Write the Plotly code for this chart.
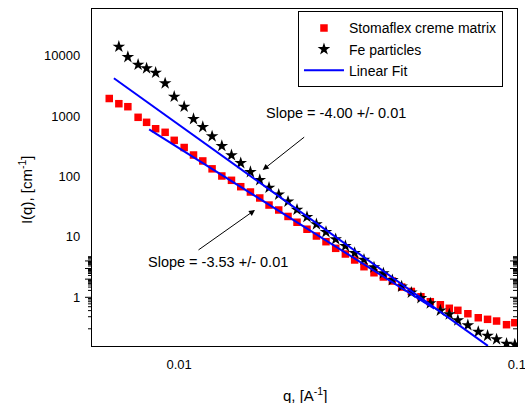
import math
import plotly.graph_objects as go

# ---- data ----
q_matrix = [0.00621, 0.00663, 0.00705, 0.00756, 0.00801, 0.00852, 0.00909, 0.00967,
            0.01035, 0.01103, 0.01175, 0.01252, 0.01338, 0.01429, 0.01522, 0.01626,
            0.01733, 0.01846, 0.01972, 0.02101, 0.02234, 0.02391, 0.02550, 0.02722,
            0.02908, 0.03107, 0.03310, 0.03527, 0.03776, 0.04025, 0.04279, 0.04560,
            0.04871, 0.05200, 0.05544, 0.05936, 0.06310, 0.06689, 0.07161, 0.07688,
            0.08191, 0.08710, 0.09322, 0.09863]
I_matrix = [1955, 1604, 1431, 955, 789, 618, 539, 397,
            302, 227, 181, 134, 102, 86.5, 67.8, 55.4,
            44.1, 33.7, 27.9, 21.8, 17.5, 13.4, 10.35, 8.33,
            6.47, 5.21, 4.15, 3.21, 2.55, 2.17, 1.86, 1.48,
            1.25, 1.02, 0.846, 0.754, 0.658, 0.609, 0.535, 0.459,
            0.432, 0.405, 0.352, 0.380]

q_fe = [0.00663, 0.00705, 0.00756, 0.00801, 0.00852, 0.00909, 0.00967,
        0.01035, 0.01103, 0.01175, 0.01252, 0.01338, 0.01429, 0.01522, 0.01626,
        0.01733, 0.01846, 0.01972, 0.02101, 0.02234, 0.02391, 0.02550, 0.02722,
        0.02908, 0.03107, 0.03310, 0.03527, 0.03776, 0.04025, 0.04279, 0.04560,
        0.04871, 0.05200, 0.05544, 0.05936, 0.06310, 0.06689, 0.07161, 0.07688,
        0.08191, 0.08710, 0.09322, 0.09863]
I_fe = [14090, 9510, 7100, 6185, 5233, 3493, 2095,
        1431, 895, 660, 463, 320, 225, 167, 118.7,
        87.5, 65.3, 50.3, 38.5, 28.2, 21.4, 16.2, 12.05,
        9.16, 7.07, 5.41, 4.19, 3.14, 2.50, 1.93, 1.51,
        1.20, 0.974, 0.796, 0.605, 0.523, 0.416, 0.345, 0.2685,
        0.231, 0.2017, 0.1705, 0.1654]

fit_fe_q = [0.00641, 0.0821]
fit_fe_I = [4226, 0.157]
fit_matrix_q = [0.00815, 0.0570]
fit_matrix_I = [604, 0.65]

names = ["Stomaflex creme matrix", "Fe particles", "Linear Fit"]
slope_labels = ["Slope = -4.00 +/- 0.01", "Slope = -3.53 +/- 0.01"]

x_range = [-2.258, -0.9995]
y_range = [-0.806, 4.773]

# tick positions
x_major = [0.01, 0.1]
y_major = [1, 10, 100, 1000, 10000]
x_minor = [d * 10.0 ** e for e in (-3, -2) for d in range(2, 10)]
y_minor = [d * 10.0 ** e for e in range(-1, 5) for d in range(2, 10)]

FONT = "Arial, Liberation Sans, sans-serif"
PLOT_W, PLOT_H = 425, 337

fig = go.Figure()
fig.add_trace(go.Scatter(x=q_matrix, y=I_matrix, mode="markers", name=names[0],
                         marker=dict(symbol="square", size=7.5, color="#ff0000",
                                     line=dict(width=0))))
fig.add_trace(go.Scatter(x=q_fe, y=I_fe, mode="markers", name=names[1],
                         marker=dict(symbol="star", size=9.5, color="black",
                                     line=dict(width=0))))
fig.add_trace(go.Scatter(x=fit_fe_q, y=fit_fe_I, mode="lines", name=names[2],
                         line=dict(color="#0000ff", width=2)))
fig.add_trace(go.Scatter(x=fit_matrix_q, y=fit_matrix_I, mode="lines", name=names[2],
                         showlegend=False, line=dict(color="#0000ff", width=2)))

fig.update_layout(
    width=525, height=403,
    margin=dict(l=92, r=8, t=9, b=57, autoexpand=False),
    paper_bgcolor="white", plot_bgcolor="white",
    font=dict(family=FONT, size=13, color="black"),
    showlegend=True,
    legend=dict(x=0.967, y=0.993, xanchor="right", yanchor="top",
                bordercolor="black", borderwidth=1, bgcolor="white",
                font=dict(size=14, family=FONT), tracegroupgap=0,
                itemwidth=40),
    xaxis=dict(type="log", range=x_range, dtick=1, ticks="", showgrid=False,
               zeroline=False, showline=True, mirror=True, linecolor="black",
               linewidth=1.3, ticklabeloverflow="allow", tickfont=dict(size=13),
               ticklabelstandoff=6),
    yaxis=dict(type="log", range=y_range, dtick=1, ticks="", showgrid=False,
               zeroline=False, showline=True, mirror=True, linecolor="black",
               linewidth=1.3, tickformat="d", tickfont=dict(size=13),
               ticklabelstandoff=8),
)

# tick marks drawn as thin line shapes (outside on bottom/left, inside on top/right)
shapes = []
tick_line = dict(color="black", width=1)


def in_range(v, rng):
    lv = math.log10(v)
    return rng[0] <= lv <= rng[1] + 1e-9


for vals, blen, tlen in ((x_major, 5, 5), (x_minor, 4, 3)):
    for v in vals:
        if not in_range(v, x_range):
            continue
        lv = math.log10(v)
        shapes.append(dict(type="line", xref="x", yref="paper", x0=lv, x1=lv,
                           y0=0, y1=-blen / PLOT_H, line=tick_line))
        shapes.append(dict(type="line", xref="x", yref="paper", x0=lv, x1=lv,
                           y0=1, y1=1 - tlen / PLOT_H, line=tick_line))
for vals, llen, rlen in ((y_major, 7, 7), (y_minor, 4, 4)):
    for v in vals:
        if not in_range(v, y_range):
            continue
        lv = math.log10(v)
        shapes.append(dict(type="line", xref="paper", yref="y", y0=lv, y1=lv,
                           x0=0, x1=-llen / PLOT_W, line=tick_line))
        shapes.append(dict(type="line", xref="paper", yref="y", y0=lv, y1=lv,
                           x0=1, x1=1 - rlen / PLOT_W, line=tick_line))
fig.update_layout(shapes=shapes)

ann = []
ann.append(dict(text="I(q), [cm<sup>-1</sup>]", xref="paper", yref="paper",
                x=-0.155, y=0.463, xanchor="center", yanchor="middle",
                textangle=-90, showarrow=False, font=dict(size=15, family=FONT)))
ann.append(dict(text="q, [A<sup>-1</sup>]", xref="paper", yref="paper",
                x=0.501, y=-0.1454, xanchor="center", yanchor="middle",
                showarrow=False, font=dict(size=15, family=FONT)))
ann.append(dict(text=slope_labels[0], xref="paper", yref="paper", x=0.5741, y=0.6914,
                xanchor="center", yanchor="middle",
                showarrow=False, font=dict(size=14.5, family=FONT)))
ann.append(dict(text=slope_labels[1], xref="paper", yref="paper", x=0.2965, y=0.2493,
                xanchor="center", yanchor="middle",
                showarrow=False, font=dict(size=14.5, family=FONT)))
ann.append(dict(text="", xref="paper", yref="paper", x=0.4016, y=0.5223,
                ax=43, ay=-34, showarrow=True, arrowhead=2, arrowsize=1.2,
                arrowwidth=1, arrowcolor="black"))
ann.append(dict(text="", xref="paper", yref="paper", x=0.3835, y=0.4036,
                ax=-58, ay=41, showarrow=True, arrowhead=2, arrowsize=1.2,
                arrowwidth=1, arrowcolor="black"))
fig.update_layout(annotations=ann)

fig.write_html("out.html")
